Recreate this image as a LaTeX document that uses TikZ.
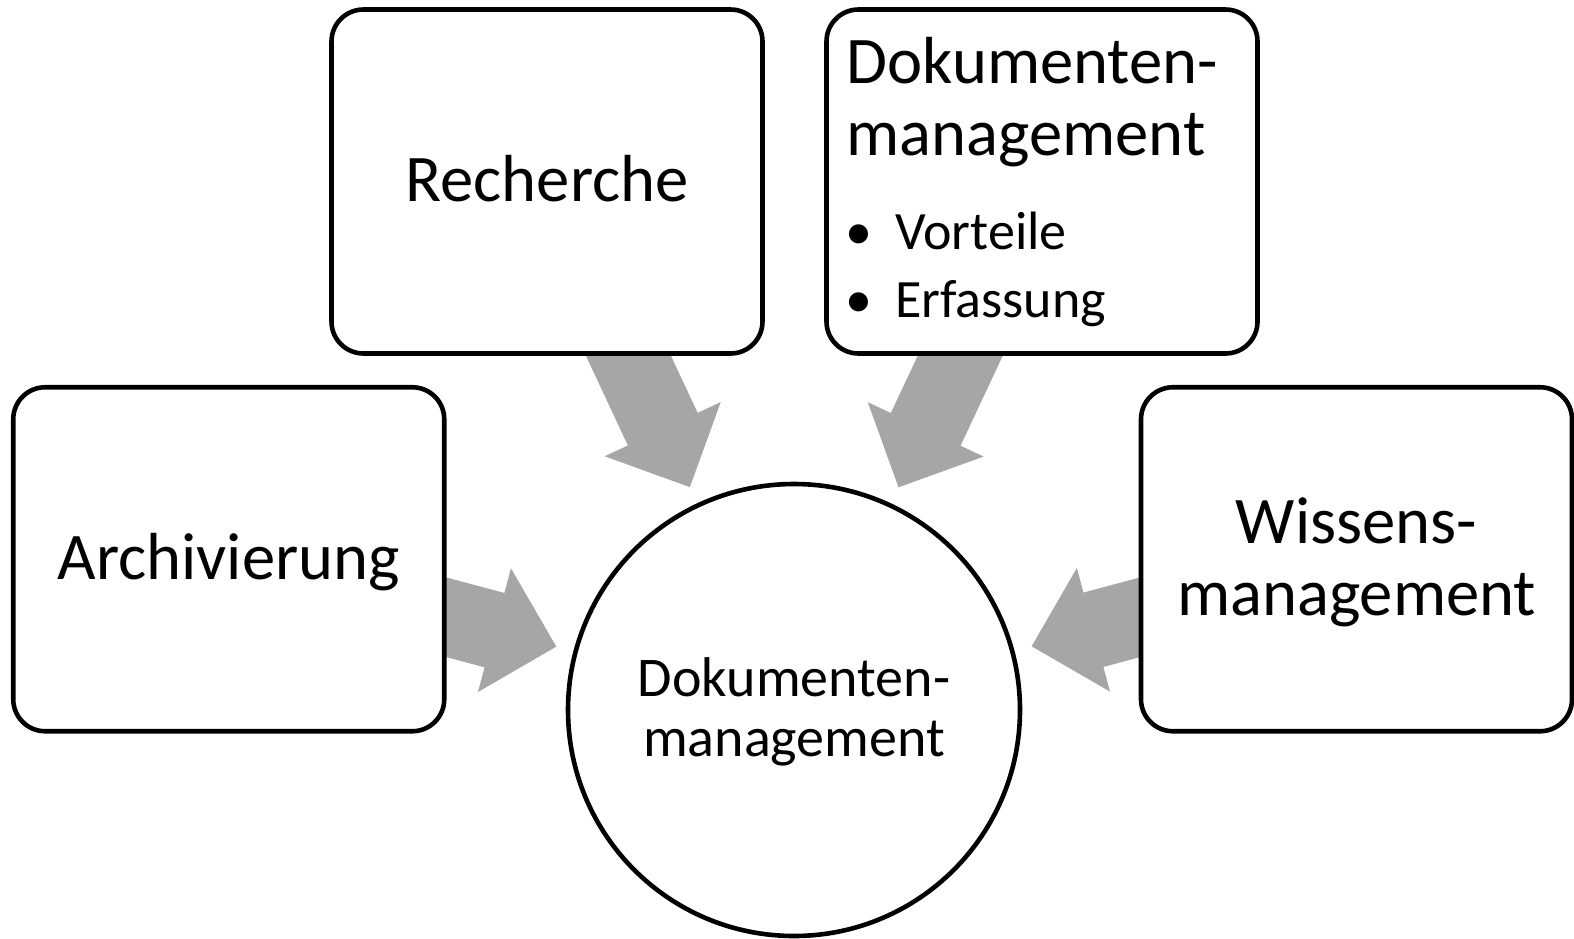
\documentclass[tikz,border=0pt]{standalone}
\usepackage{fontspec}
\setmainfont{Carlito}
\usetikzlibrary{calc,backgrounds}
\definecolor{arrowgray}{HTML}{A6A6A6}
\tikzset{
  boxnode/.style={draw=black, line width=2.3pt, fill=white, rounded corners=16pt,
    minimum width=215.5pt, minimum height=172pt, inner sep=0pt},
  hubnode/.style={draw=black, line width=2.3pt, fill=white, circle,
    minimum size=226pt, inner sep=0pt},
  bigtext/.style={font=\fontsize{33.3}{36.2}\selectfont, inner sep=0pt, anchor=base},
  hubtext/.style={font=\fontsize{28}{30}\selectfont, inner sep=0pt, anchor=base},
  bullettext/.style={font=\fontsize{27}{30}\selectfont, inner sep=0pt, anchor=base west},
  arrowfill/.style={fill=arrowgray, draw=none}
}
\newcommand{\blockarrow}[2]{%
  \coordinate (ba-t-#1) at ($(#2.center)!123pt!(#1.center)$);
  \coordinate (ba-h-#1) at ($(#2.center)!155pt!(#1.center)$);
  \fill[arrowfill] (ba-t-#1)
    -- ($(ba-h-#1)!32pt!90:(#1.center)$)
    -- ($(ba-h-#1)!19.25pt!90:(#1.center)$)
    -- ($(#1.center)!19.25pt!-90:(#2.center)$)
    -- ($(#1.center)!19.25pt!90:(#2.center)$)
    -- ($(ba-h-#1)!19.25pt!-90:(#1.center)$)
    -- ($(ba-h-#1)!32pt!-90:(#1.center)$)
    -- cycle;}
\begin{document}
\begin{tikzpicture}[x=0.5pt,y=-0.5pt]
\useasboundingbox (0,0) rectangle (1574,938);
\node[hubnode] (hub) at (794,710) {};
\node[boxnode] (arch) at (228.75,559.25) {};
\node[boxnode] (rech) at (547,181.5) {};
\node[boxnode] (dok) at (1042,181.5) {};
\node[boxnode] (wiss) at (1356.5,559.25) {};
% texts
\node[bigtext] (rech-txt) at ($(rech.center)+(0,19.5)$) {Recherche};
\node[bigtext] (arch-txt) at ($(arch.center)+(0,19.75)$) {Archivierung};
\node[bigtext] (wiss-txt1) at ($(wiss.center)+(0,-16.2)$) {Wissens-};
\node[bigtext] (wiss-txt2) at ($(wiss.center)+(0,56)$) {management};
\node[hubtext] (hub-txt1) at ($(hub.center)+(0,-13.3)$) {Dokumenten-};
\node[hubtext] (hub-txt2) at ($(hub.center)+(0,46.7)$) {management};
\node[bigtext, anchor=base west] (dok-txt1) at ($(dok.north west)+(22,76)$) {Dokumenten-};
\node[bigtext, anchor=base west] (dok-txt2) at ($(dok.north west)+(22,148.4)$) {management};
\node[bullettext] (dok-b1) at ($(dok.north west)+(21,242.3)$) {\makebox[24.75pt][l]{•}Vorteile};
\node[bullettext] (dok-b2) at ($(dok.north west)+(21,310)$) {\makebox[24.75pt][l]{•}Erfassung};
\begin{scope}[on background layer]
\blockarrow{arch}{hub}
\blockarrow{rech}{hub}
\blockarrow{dok}{hub}
\blockarrow{wiss}{hub}
\end{scope}
\end{tikzpicture}
\end{document}
